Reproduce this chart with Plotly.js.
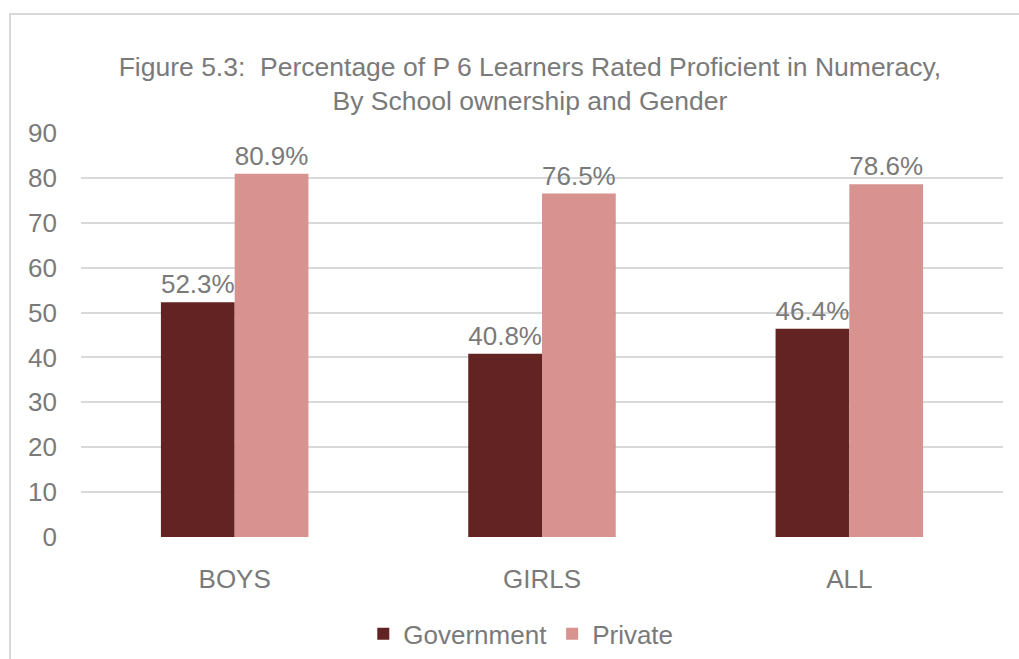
<!DOCTYPE html>
<html>
<head>
<meta charset="utf-8">
<script src="https://cdn.plot.ly/plotly-3.0.1.min.js"></script>
<style>html,body{margin:0;padding:0;background:#fff;}#chart{width:1019px;height:659px;}</style>
</head>
<body>
<div id="chart"></div>
<script>
const categories = ["BOYS", "GIRLS", "ALL"];
const government = [52.3, 40.8, 46.4];
const privateSchools = [80.9, 76.5, 78.6];
const seriesNames = ["Government", "Private"];
const yTicks = [0, 10, 20, 30, 40, 50, 60, 70, 80, 90];

const gray = "#7a7a7a";
const font = "Liberation Sans, Arial, Helvetica, sans-serif";

function fmt(v) { return v.toFixed(1) + "%"; }

const traces = [
  {
    type: "bar", name: seriesNames[0], x: categories, y: government,
    marker: {color: "#622322"},
    text: government.map(fmt), textposition: "outside", cliponaxis: false,
    textfont: {size: 26, color: gray, family: font}
  },
  {
    type: "bar", name: seriesNames[1], x: categories, y: privateSchools,
    marker: {color: "#D89391"},
    text: privateSchools.map(fmt), textposition: "outside", cliponaxis: false,
    textfont: {size: 26, color: gray, family: font}
  }
];

const layout = {
  width: 1019, height: 659,
  margin: {l: 81, r: 16, t: 133, b: 122, autoexpand: false},
  paper_bgcolor: "#fff", plot_bgcolor: "#fff",
  font: {family: font, color: gray, size: 26},
  title: {
    text: "Figure 5.3:  Percentage of P 6 Learners Rated Proficient in Numeracy,<br>By School ownership and Gender",
    font: {size: 26.5, color: gray, family: font},
    x: 0.52, xanchor: "center", y: 0.885, yanchor: "middle", yref: "container"
  },
  barmode: "group", bargap: 0.52, bargroupgap: 0,
  xaxis: {
    showgrid: false, zeroline: false, showline: false, ticks: "", automargin: false,
    tickfont: {size: 26, color: gray}, ticklabelstandoff: 24
  },
  yaxis: {
    range: [0, 90], tickvals: yTicks, ticktext: yTicks.map(String), automargin: false,
    showgrid: true, gridcolor: "#d9d9d9", gridwidth: 2,
    zeroline: false, showline: false, ticks: "",
    tickfont: {size: 26, color: gray}, ticklabelstandoff: 23
  },
  showlegend: true,
  legend: {
    orientation: "h", x: 0.477, xanchor: "center", yref: "container", y: 0.038, yanchor: "middle",
    font: {size: 26, color: gray}, itemwidth: 30, traceorder: "normal"
  },
  shapes: [
    {type: "path", xref: "paper", yref: "paper",
     path: "M -0.077 -0.32 L -0.077 1.2946 L 1.1 1.2946",
     line: {color: "#d9d9d9", width: 2}, layer: "below"}
  ]
};

Plotly.newPlot("chart", traces, layout, {displayModeBar: false, responsive: false});
</script>
</body>
</html>
